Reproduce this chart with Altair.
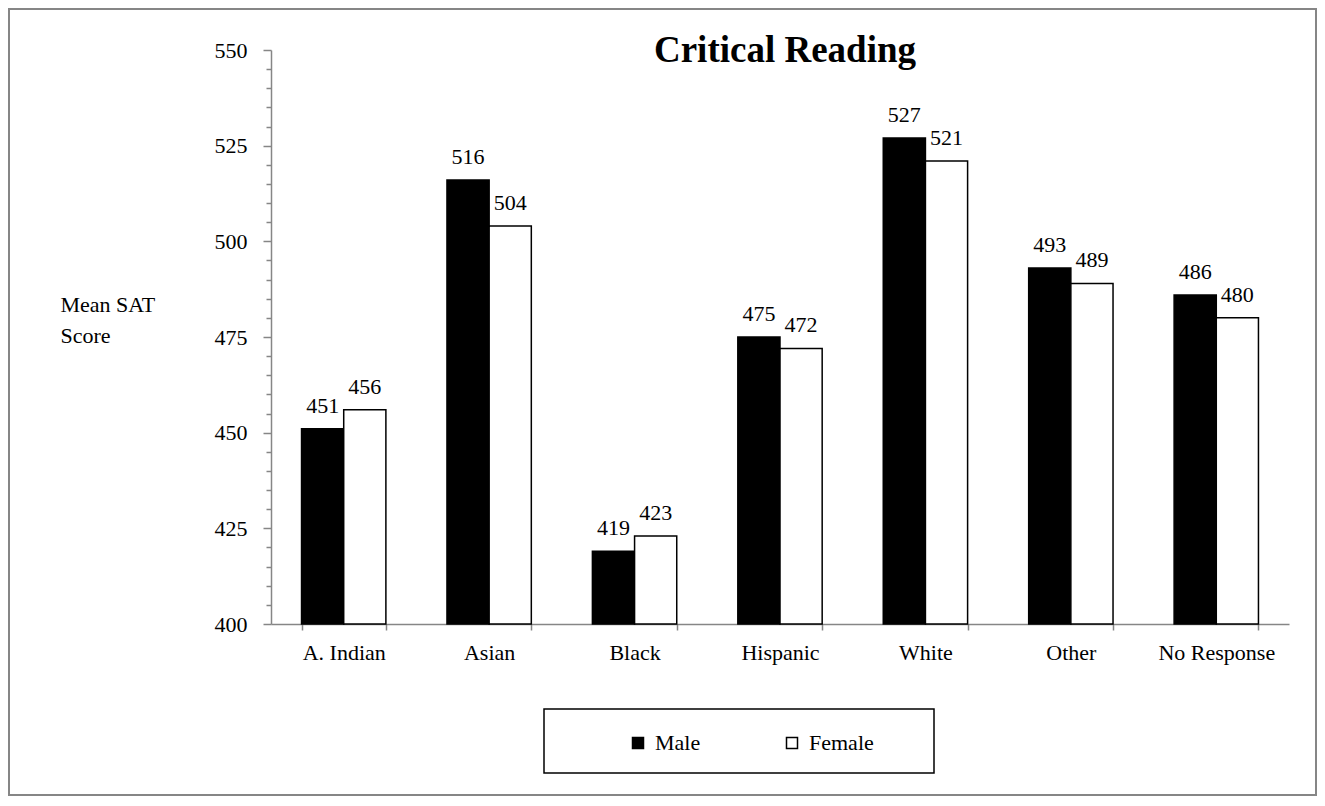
import altair as alt
import pandas as pd

CATEGORIES = ["A. Indian", "Asian", "Black", "Hispanic", "White", "Other", "No Response"]
MALE = [451, 516, 419, 475, 527, 493, 486]
FEMALE = [456, 504, 423, 472, 521, 489, 480]
GENDERS = ["Male", "Female"]
GENDER_FILLS = ["#000000", "#ffffff"]
Y_TICKS = [400, 405, 410, 415, 420, 425, 430, 435, 440, 445, 450, 455, 460, 465, 470, 475,
           480, 485, 490, 495, 500, 505, 510, 515, 520, 525, 530, 535, 540, 545, 550]
Y_DOMAIN = [400, 550]
TITLE = "Critical Reading"
Y_TITLE = ["Mean SAT", "Score"]

rows = []
for cat, m, f in zip(CATEGORIES, MALE, FEMALE):
    rows.append({"Group": cat, "Gender": "Male", "Score": m})
    rows.append({"Group": cat, "Gender": "Female", "Score": f})
df = pd.DataFrame(rows)

FONT = "Liberation Serif"
GRAY = "#868686"
W, H = 1018, 574

x_enc = alt.X(
    "Group:N", sort=CATEGORIES,
    scale=alt.Scale(paddingInner=0.42, paddingOuter=0.21),
    axis=alt.Axis(title=None, labelAngle=0, tickBand="extent", tickSize=6,
                  domainColor=GRAY, domainWidth=1.5, tickColor=GRAY, tickWidth=1.5,
                  labelFont=FONT, labelFontSize=22, labelColor="black", labelPadding=12),
)
y_enc = alt.Y(
    "Score:Q",
    scale=alt.Scale(domain=Y_DOMAIN, zero=False, nice=False),
    axis=alt.Axis(values=Y_TICKS, format="d",
                  labelExpr="datum.value % 25 == 0 ? datum.label : ''",
                  tickSize={"condition": {"test": "datum.value % 25 == 0", "value": 8}, "value": 5},
                  domainColor=GRAY, domainWidth=1.5, tickColor=GRAY, tickWidth=1.5,
                  grid=False, labelFont=FONT, labelFontSize=22, labelColor="black",
                  labelPadding=16,
                  title=Y_TITLE, titleAngle=0, titleAlign="left", titleBaseline="alphabetic",
                  titleX=-211, titleY=261, titleFont=FONT, titleFontSize=22,
                  titleFontWeight="normal", titleColor="black", titleLineHeight=31),
)
x_off = alt.XOffset("Gender:N", sort=GENDERS, scale=alt.Scale(paddingInner=0, paddingOuter=0))

bars = alt.Chart(df).mark_bar(stroke="black", strokeWidth=1.5).encode(
    x=x_enc, xOffset=x_off, y=y_enc, y2=alt.datum(Y_DOMAIN[0]),
    fill=alt.Fill("Gender:N", sort=GENDERS,
                  scale=alt.Scale(domain=GENDERS, range=GENDER_FILLS),
                  legend=alt.Legend(orient="none", legendX=356, legendY=682,
                                    direction="horizontal", title=None,
                                    symbolType="square", symbolSize=121,
                                    symbolStrokeColor="black", symbolStrokeWidth=1.5,
                                    labelFont=FONT, labelFontSize=22, labelColor="black",
                                    labelOffset=6, columnPadding=80, padding=0)),
)

labels = alt.Chart(df).mark_text(font=FONT, fontSize=22, baseline="alphabetic",
                                 dy=-16, color="black").encode(
    x=x_enc, xOffset=x_off, y=y_enc, text=alt.Text("Score:Q"),
)

one = alt.Data(values=[{"k": 1}])
border = alt.Chart(one).mark_rect(fillOpacity=0, stroke=GRAY, strokeWidth=2).encode(
    x=alt.value(-262), x2=alt.value(1045), y=alt.value(-41), y2=alt.value(745))
legend_box = alt.Chart(one).mark_rect(fillOpacity=0, stroke="black", strokeWidth=1.5).encode(
    x=alt.value(273), x2=alt.value(663), y=alt.value(659), y2=alt.value(723))
title = alt.Chart(one).mark_text(font=FONT, fontSize=37, fontWeight="bold",
                                 baseline="alphabetic", align="center", color="black").encode(
    x=alt.value(514), y=alt.value(12), text=alt.value(TITLE))

chart = alt.layer(border, legend_box, bars, labels, title).properties(
    width=W, height=H, autosize="none", background="white",
    padding={"left": 263, "top": 42, "right": 28, "bottom": 172},
).configure_view(stroke=None)

chart.save("out.html", embed_options={"renderer": "svg", "actions": False})
